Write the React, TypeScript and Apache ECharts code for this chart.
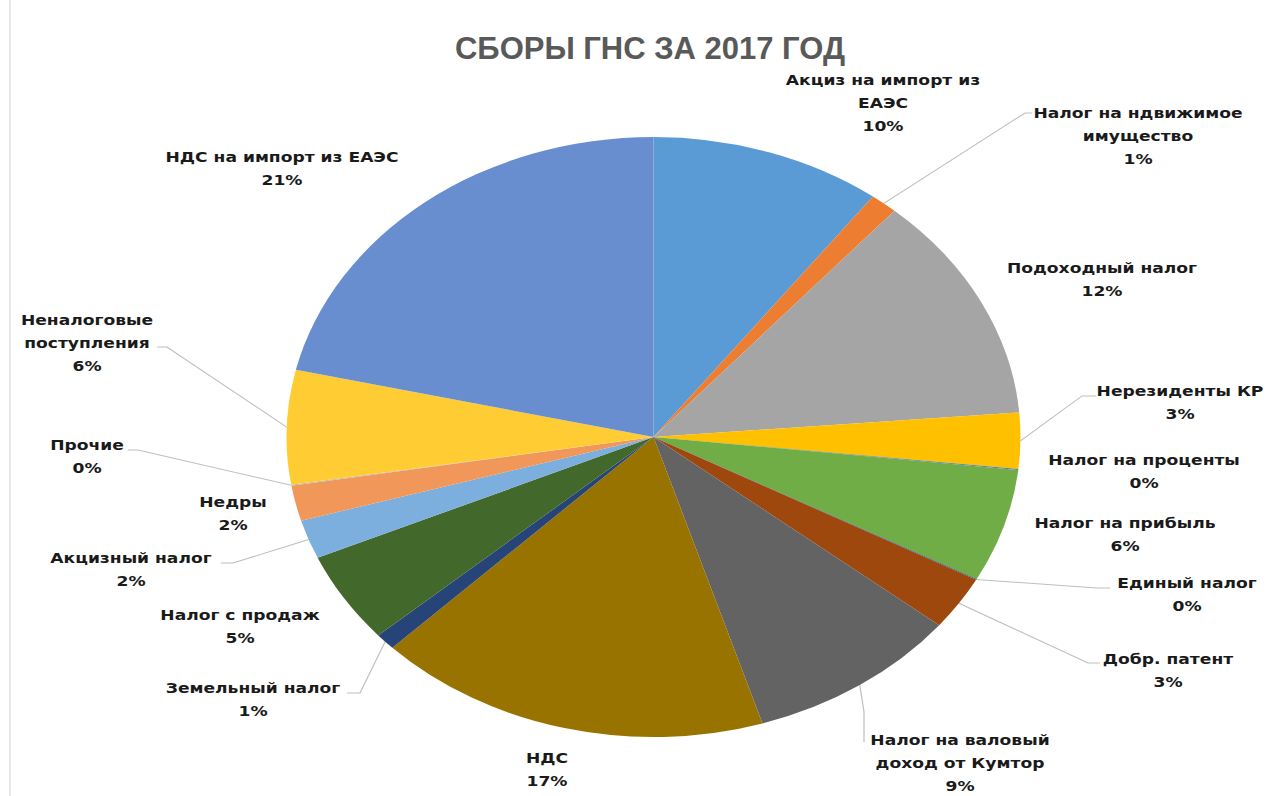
import { useEffect, useRef } from 'react';
import * as echarts from 'echarts';

// ---- data ----
const categories = [
  'Акциз на импорт из\nЕАЭС',
  'Налог на ндвижимое\nимущество',
  'Подоходный налог',
  'Нерезиденты КР',
  'Налог на проценты',
  'Налог на прибыль',
  'Единый налог',
  'Добр. патент',
  'Налог на валовый\nдоход от Кумтор',
  'НДС',
  'Земельный налог',
  'Налог с продаж',
  'Акцизный налог',
  'Недры',
  'Прочие',
  'Неналоговые\nпоступления',
  'НДС на импорт из ЕАЭС',
];
const shares = [10.2, 1.2, 12.3, 3.0, 0.05, 6.1, 0.05, 2.9, 9.4, 17.4, 0.9, 4.9, 2.1, 1.9, 0.05, 6.15, 21.4];

// ---- styles / layout ----
const colors = [
  '#5B9BD5', '#ED7D31', '#A5A5A5', '#FFC000', '#4472C4', '#70AD47',
  '#255E91', '#9E480E', '#636363', '#997300', '#264478', '#43682B',
  '#7CAFDD', '#F1975A', '#B7B7B7', '#FFCD33', '#698ED0',
];
const leader = [false, true, false, true, false, false, true, true, true, false, true, false, true, false, true, true, false];
// label block centres (picture pixels)
const labelCenters: number[][] = [
  [883, 103], [1138, 136], [1102, 280], [1180, 403], [1144, 472], [1125, 535],
  [1187, 595], [1168, 671], [960, 763], [547, 770], [253, 700], [240, 627],
  [131, 570], [233, 514], [87, 457], [87, 343], [282, 169],
];
// leader line: elbow point and end point at the label (picture pixels)
const leaderEnds: Record<number, number[][]> = {
  1: [[1025, 113], [1032, 113]],
  3: [[1082, 396], [1096, 396]],
  6: [[1097, 588], [1110, 588]],
  7: [[1088, 663], [1100, 663]],
  8: [[864, 712], [864, 742]],
  10: [[360, 693], [347, 693]],
  12: [[233, 563], [221, 563]],
  14: [[138, 450], [128, 450]],
  15: [[167, 347], [157, 347]],
};
const S = 1.2233; // horizontal stretch of the reference picture
const W = 1284;
const H = 796;
const CX = 653.5; // pie centre in picture pixels
const CY = 437;
const R = 300;

export default function App() {
  const ref = useRef<HTMLDivElement>(null);
  useEffect(() => {
    if (!ref.current) return;
    const chart = echarts.init(ref.current, null, { renderer: 'svg' });
    const total = shares.reduce((a, b) => a + b, 0);
    const cum: number[] = [];
    shares.reduce((acc, v, i) => {
      cum[i] = acc + v / 2;
      return acc + v;
    }, 0);
    chart.setOption({
      animation: false,
      backgroundColor: '#ffffff',
      graphic: [
        {
          type: 'line',
          shape: { x1: 10 / S, y1: 0, x2: 10 / S, y2: H },
          style: { stroke: '#d9d9d9', lineWidth: 1 },
          silent: true,
        },
        {
          type: 'text',
          x: 650 / S,
          y: 48.5,
          scaleX: 1 / S,
          style: {
            text: 'СБОРЫ ГНС ЗА 2017 ГОД',
            fill: '#595959',
            fontSize: 31,
            fontWeight: 'bold',
            fontFamily: '"Liberation Sans", Arial, sans-serif',
            align: 'center',
            verticalAlign: 'middle',
          },
          silent: true,
        },
      ],
      series: [
        {
          type: 'pie',
          center: [CX / S, CY],
          radius: R,
          startAngle: 90,
          clockwise: true,
          avoidLabelOverlap: false,
          itemStyle: { borderWidth: 0 },
          label: {
            show: true,
            position: 'outside',
            formatter: (p: any) => `${p.name}\n${Math.round(p.percent)}%`,
            fontFamily: '"DejaVu Sans", sans-serif',
            fontWeight: 'bold',
            fontSize: 14,
            lineHeight: 23,
            color: '#1a1a1a',
            align: 'center',
          },
          labelLine: {
            show: true,
            length: 10,
            length2: 8,
            smooth: false,
            lineStyle: { color: '#bfbfbf', width: 1 },
          },
          labelLayout: (params: any) => {
            const i = params.dataIndex;
            const c = labelCenters[i];
            const out: any = { x: c[0] / S, y: c[1], align: 'center', verticalAlign: 'middle' };
            const ends = leaderEnds[i];
            if (ends) {
              const th = (2 * Math.PI * cum[i]) / total;
              const p0 = [CX / S + R * Math.sin(th), CY - R * Math.cos(th)];
              out.labelLinePoints = [p0, [ends[0][0] / S, ends[0][1]], [ends[1][0] / S, ends[1][1]]];
            }
            return out;
          },
          emphasis: { disabled: true },
          data: categories.map((name, i) => ({
            name,
            value: shares[i],
            itemStyle: { color: colors[i] },
            labelLine: { show: leader[i] },
          })),
        },
      ],
    });
    return () => chart.dispose();
  }, []);
  return (
    <div style={{ position: 'fixed', left: 0, top: 0, width: W, height: H, overflow: 'hidden', background: '#fff' }}>
      <div
        ref={ref}
        style={{ width: Math.round(W / S), height: H, transform: `scaleX(${S})`, transformOrigin: '0 0' }}
      />
    </div>
  );
}
